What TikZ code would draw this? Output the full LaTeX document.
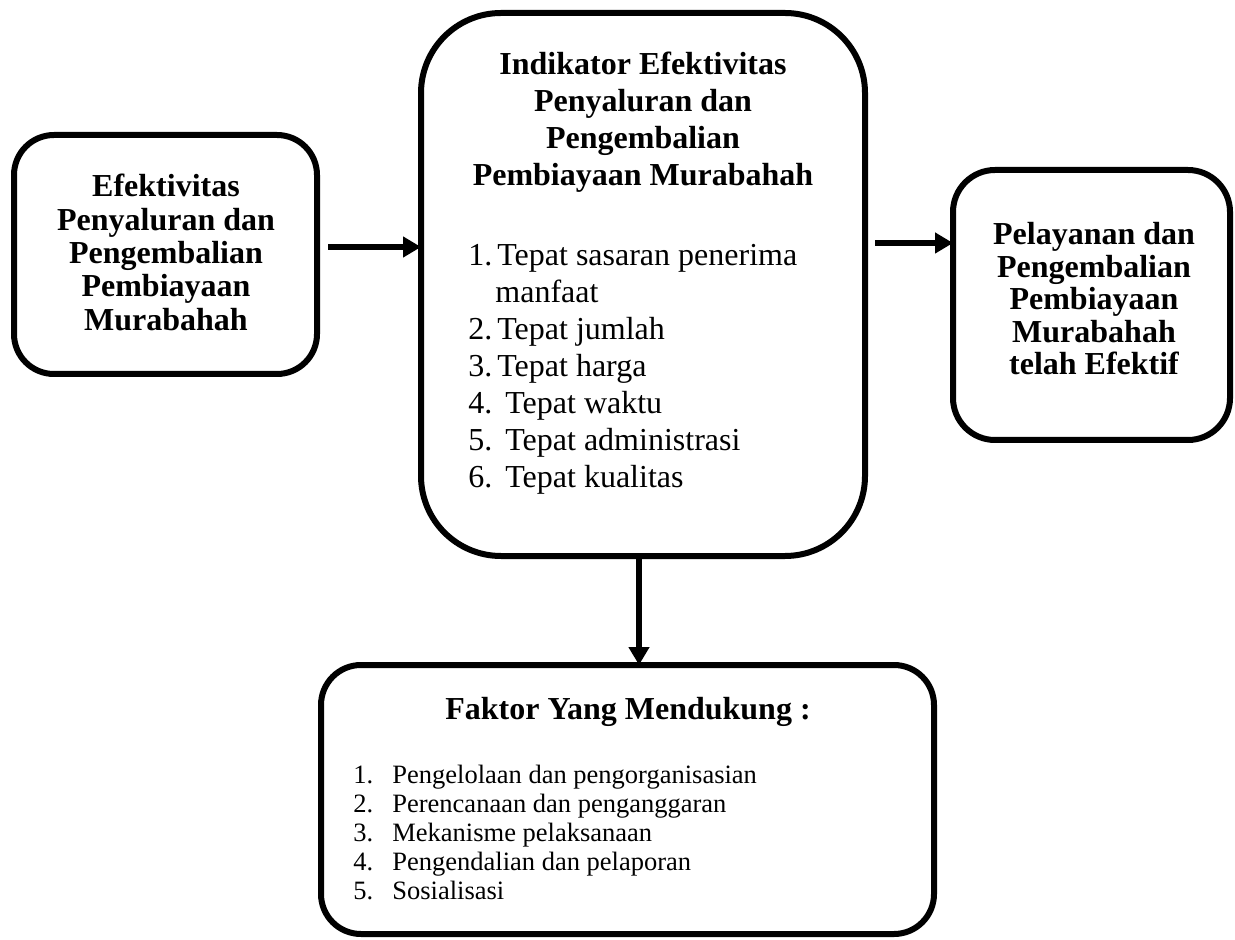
\documentclass[tikz,border=0pt]{standalone}
\usepackage{fontspec}
\setmainfont{Liberation Serif}
\usetikzlibrary{arrows.meta}
\begin{document}
\begin{tikzpicture}[x=0.5pt,y=-0.5pt,
  box/.style={draw=black, line width=3pt, rectangle, inner sep=0pt, outer sep=0pt},
  arr/.style={draw=black, line width=3pt, -{Triangle[length=9pt,width=10pt]}},
  ttl/.style={inner sep=0pt, anchor=base, font=\fontsize{16pt}{#1}\selectfont\bfseries},
  lst/.style={inner sep=0pt, anchor=base west, align=left}]
\useasboundingbox (0,0) rectangle (1235,940);
% boxes
\node[box, rounded corners=20pt, minimum width=151.5pt, minimum height=119.5pt] (L) at (165.5,254.5) {};
\node[box, rounded corners=40pt, minimum width=222pt, minimum height=271.5pt] (M) at (643,284.5) {};
\node[box, rounded corners=21pt, minimum width=138.5pt, minimum height=135pt] (R) at (1091.5,305) {};
\node[box, rounded corners=20pt, minimum width=306.5pt, minimum height=134.5pt] (B) at (627.5,799.5) {};
% texts
\node[ttl=16.65pt] (Lt) at (166,197) {\begin{tabular}[t]{@{}c@{}}Efektivitas\\Penyaluran dan\\Pengembalian\\Pembiayaan\\Murabahah\end{tabular}};
\node[ttl=18.35pt] (Mt) at (643,75) {\begin{tabular}[t]{@{}c@{}}Indikator Efektivitas\\Penyaluran dan\\Pengembalian\\Pembiayaan Murabahah\end{tabular}};
\node[lst, font=\fontsize{16pt}{18.5pt}\selectfont] (Ml) at (468,266) {\begin{tabular}[t]{@{}l@{}}%
\makebox[14.5pt][l]{1.}Tepat sasaran penerima\\
\hspace*{13.5pt}manfaat\\
\makebox[14.5pt][l]{2.}Tepat jumlah\\
\makebox[14.5pt][l]{3.}Tepat harga\\
\makebox[18.5pt][l]{4.}Tepat waktu\\
\makebox[18.5pt][l]{5.}Tepat administrasi\\
\makebox[18.5pt][l]{6.}Tepat kualitas\end{tabular}};
\node[ttl=16.25pt] (Rt) at (1094,245) {\begin{tabular}[t]{@{}c@{}}Pelayanan dan\\Pengembalian\\Pembiayaan\\Murabahah\\telah Efektif\end{tabular}};
\node[ttl=18pt] (Bt) at (628,719) {Faktor Yang Mendukung :};
\node[lst, font=\fontsize{13.25pt}{14.5pt}\selectfont] (Bl) at (353,783) {\begin{tabular}[t]{@{}l@{}}%
\makebox[19.5pt][l]{1.}Pengelolaan dan pengorganisasian\\
\makebox[19.5pt][l]{2.}Perencanaan dan penganggaran\\
\makebox[19.5pt][l]{3.}Mekanisme pelaksanaan\\
\makebox[19.5pt][l]{4.}Pengendalian dan pelaporan\\
\makebox[19.5pt][l]{5.}Sosialisasi\end{tabular}};
% arrows
\draw[arr] ([xshift=5.5pt,yshift=3.75pt]L.east) -- ([yshift=18.75pt]M.west);
\draw[arr] ([xshift=5pt,yshift=20.75pt]M.east) -- ([yshift=31pt]R.west);
\draw[arr] ([xshift=-2pt]M.south) -- ([xshift=5.75pt]B.north);
\end{tikzpicture}
\end{document}
